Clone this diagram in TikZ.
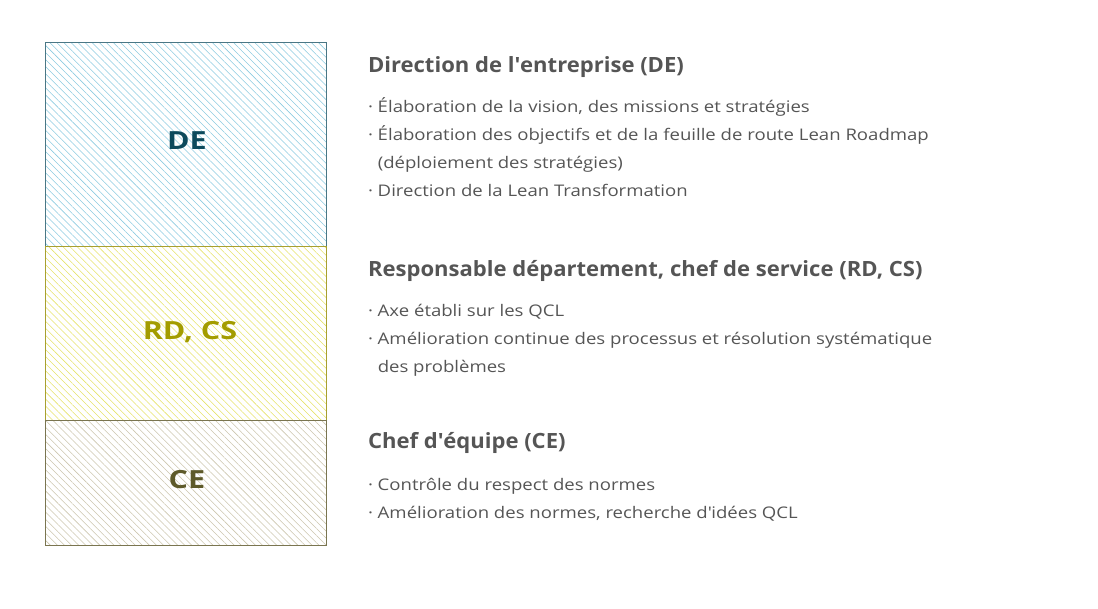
\documentclass[tikz,border=0pt]{standalone}
\usepackage{fontspec}
\setmainfont{Open Sans}
\newfontfamily\tagfont{Open Sans}[FakeStretch=1.22]
\newfontfamily\headfont{Open Sans}[FakeStretch=1.05]
\newfontfamily\itemfont{Open Sans}[FakeStretch=1.16]
\usepackage{tikz}
\usetikzlibrary{patterns.meta}
\usetikzlibrary{positioning}
\definecolor{DEline}{HTML}{8CCBE0}
\definecolor{DEframe}{HTML}{4A7785}
\definecolor{DEtext}{HTML}{0D4A5C}
\definecolor{RDline}{HTML}{E6E36A}
\definecolor{RDframe}{HTML}{A8A030}
\definecolor{RDtext}{HTML}{A39C00}
\definecolor{CEline}{HTML}{CCC6AE}
\definecolor{CEframe}{HTML}{7A7550}
\definecolor{CEtext}{HTML}{5E5A2A}
\definecolor{bodygrey}{HTML}{555555}
\tikzstyle{base}=[x=1pt, y=-1pt, inner sep=0pt, outer sep=0pt]
\tikzstyle{hatch}=[line width=0.8pt, pattern={Lines[angle=-45,distance=5pt,line width=0.55pt]}]
\tikzstyle{tag}=[anchor=base, font=\tagfont\fontsize{25}{27}\selectfont\bfseries]
\tikzstyle{head}=[anchor=base west, bodygrey, font=\headfont\fontsize{21}{24}\selectfont\bfseries]
\tikzstyle{item}=[anchor=base west, bodygrey, font=\itemfont\fontsize{16}{20}\selectfont]
\newcommand*{\qt}{\textquotesingle}

\begin{document}
\begin{tikzpicture}[base]
    \path [use as bounding box] (0,0) rectangle (1098,608);
        % levels
        \draw [DEframe, hatch, pattern color=DEline] (45,42) rectangle (326,246);
        \draw [RDframe, hatch, pattern color=RDline] (45,246) rectangle (326,420);
        \draw [CEframe, hatch, pattern color=CEline] (45,420) rectangle (326,545);
        \node [tag, DEtext] (de) at (187,149) {DE};
        \node [tag, RDtext] (rdcs) at (190,339) {RD, CS};
        \node [tag, CEtext] (ce) at (187,488) {CE};
        % DE
        \node [head] (dehead) at (368,72) {Direction de l\qt entreprise (DE)};
        \node [item] (de1) at (368,112) {· Élaboration de la vision, des missions et stratégies};
        \node [item] (de2) at (368,140) {· Élaboration des objectifs et de la feuille de route Lean Roadmap};
        \node [item] (de3) at (368,168) {\phantom{· }(déploiement des stratégies)};
        \node [item] (de4) at (368,196) {· Direction de la Lean Transformation};
        % RD, CS
        \node [head] (rdhead) at (368,276) {Responsable département, chef de service (RD, CS)};
        \node [item] (rd1) at (368,316) {· Axe établi sur les QCL};
        \node [item] (rd2) at (368,344) {· Amélioration continue des processus et résolution systématique};
        \node [item] (rd3) at (368,372) {\phantom{· }des problèmes};
        % CE
        \node [head] (cehead) at (368,448) {Chef d\qt équipe (CE)};
        \node [item] (ce1) at (368,490) {· Contrôle du respect des normes};
        \node [item] (ce2) at (368,518) {· Amélioration des normes, recherche d\qt idées QCL};
    \end{tikzpicture}
\end{document}
